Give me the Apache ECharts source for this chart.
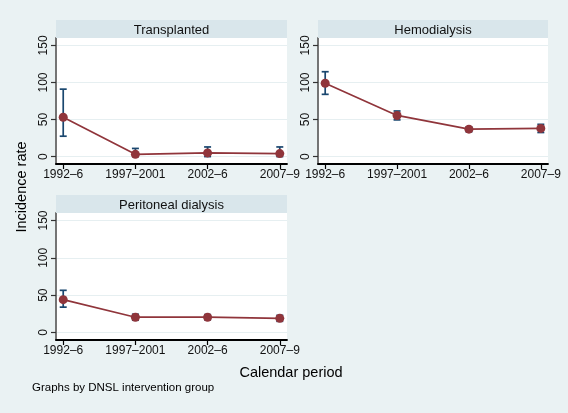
<!DOCTYPE html>
<html><head><meta charset="utf-8">
<script src="https://cdn.jsdelivr.net/npm/echarts@6/dist/echarts.min.js"></script>
<style>html,body{margin:0;padding:0;background:#EAF2F3}#c{width:568px;height:413px}</style>
</head><body><div id="c"></div>
<script>
const categories = ['1992\u20136', '1997\u20132001', '2002\u20136', '2007\u20139'];
const panelTitles = ['Transplanted', 'Hemodialysis', 'Peritoneal dialysis'];
const yTicks = [0, 50, 100, 150];
// rate, lower CI, upper CI
const transplantedRate = [53, 3, 5, 4];
const transplantedLow  = [27.5, 0, 0, 0];
const transplantedHigh = [91, 11, 13, 13];
const hemoRate = [99, 55.5, 37, 38];
const hemoLow  = [84, 49.5, 33.5, 32.5];
const hemoHigh = [114.5, 61.5, 40, 43.5];
const peritonealRate = [44, 20.5, 20.5, 19];
const peritonealLow  = [34, 16.5, 17, 15];
const peritonealHigh = [56.5, 24.5, 24, 23];

const FONT = 'Liberation Sans, Arial, sans-serif';
const panels = [
  {rate: transplantedRate, low: transplantedLow, high: transplantedHigh, grid: {left: 56, right: 281, top: 38, bottom: 249}},
  {rate: hemoRate, low: hemoLow, high: hemoHigh, grid: {left: 318, right: 20, top: 38, bottom: 249}},
  {rate: peritonealRate, low: peritonealLow, high: peritonealHigh, grid: {left: 56, right: 281, top: 213, bottom: 73}}
];
const stripH = 18;

const grids = [], xAxes = [], yAxes = [], series = [], graphics = [];
panels.forEach((p, i) => {
  grids.push(Object.assign({show: true, backgroundColor: '#FFFFFF', borderWidth: 0}, p.grid));
  xAxes.push({
    type: 'value', gridIndex: i, min: -0.1, max: 3.1,
    axisLine: {show: true, onZero: false, lineStyle: {color: '#000000', width: 1.8}},
    axisTick: {show: true, length: 5, customValues: [0, 1, 2, 3], lineStyle: {color: '#000', width: 1.2}},
    axisLabel: {customValues: [0, 1, 2, 3], formatter: v => categories[Math.round(v)], color: '#111', fontFamily: FONT, fontSize: 12, margin: 5, hideOverlap: false, showMinLabel: true, showMaxLabel: true},
    splitLine: {show: false}
  });
  yAxes.push({
    type: 'value', gridIndex: i, min: -10, max: 160,
    axisLine: {show: true, onZero: false, lineStyle: {color: '#666666', width: 1.8}},
    axisTick: {show: true, length: 5, customValues: yTicks, lineStyle: {color: '#333', width: 1.2}},
    axisLabel: {customValues: yTicks, rotate: 90, color: '#111', fontFamily: FONT, fontSize: 12, margin: 6},
    splitLine: {show: true, lineStyle: {color: '#E6EFF1', width: 1}}
  });
  const xyRate = p.rate.map((v, k) => [k, v]);
  const bars = p.low.map((v, k) => [k, v, p.high[k]]);
  series.push({
    type: 'custom', xAxisIndex: i, yAxisIndex: i, data: bars, z: 2,
    renderItem: (params, api) => {
      const x = api.value(0);
      const lo = api.coord([x, api.value(1)]);
      const hi = api.coord([x, api.value(2)]);
      const cap = 3.5;
      const st = {stroke: '#1A476F', lineWidth: 1.7};
      return {type: 'group', children: [
        {type: 'line', shape: {x1: lo[0], y1: lo[1], x2: hi[0], y2: hi[1]}, style: st},
        {type: 'line', shape: {x1: lo[0] - cap, y1: lo[1], x2: lo[0] + cap, y2: lo[1]}, style: st},
        {type: 'line', shape: {x1: hi[0] - cap, y1: hi[1], x2: hi[0] + cap, y2: hi[1]}, style: st}
      ]};
    }
  });
  series.push({
    type: 'line', xAxisIndex: i, yAxisIndex: i, data: xyRate, z: 3,
    symbol: 'circle', symbolSize: 9,
    lineStyle: {color: '#90353B', width: 1.7},
    itemStyle: {color: '#90353B'}
  });
  // header strip
  const g = p.grid;
  const x0 = g.left, w = 568 - g.right - g.left, yTop = g.top - stripH;
  graphics.push({type: 'rect', shape: {x: x0, y: yTop, width: w, height: stripH}, style: {fill: '#D9E6EB'}, z: 1});
  graphics.push({type: 'text', x: x0 + w / 2, y: yTop + stripH / 2 + 1, style: {text: panelTitles[i], fill: '#111', font: '13px ' + FONT, textAlign: 'center', textVerticalAlign: 'middle'}, z: 2});
});
graphics.push({type: 'text', x: 22, y: 187, rotation: Math.PI / 2, style: {text: 'Incidence rate', fill: '#000', font: '14.5px ' + FONT, textAlign: 'center', textVerticalAlign: 'middle'}});
graphics.push({type: 'text', x: 291, y: 373, style: {text: 'Calendar period', fill: '#000', font: '14.5px ' + FONT, textAlign: 'center', textVerticalAlign: 'middle'}});
graphics.push({type: 'text', x: 32, y: 388, style: {text: 'Graphs by DNSL intervention group', fill: '#000', font: '11.5px ' + FONT, textAlign: 'left', textVerticalAlign: 'middle'}});

const chart = echarts.init(document.getElementById('c'), null, {renderer: 'canvas'});
chart.setOption({
  animation: false,
  backgroundColor: '#EAF2F3',
  grid: grids, xAxis: xAxes, yAxis: yAxes, series: series,
  graphic: graphics
});
</script></body></html>
